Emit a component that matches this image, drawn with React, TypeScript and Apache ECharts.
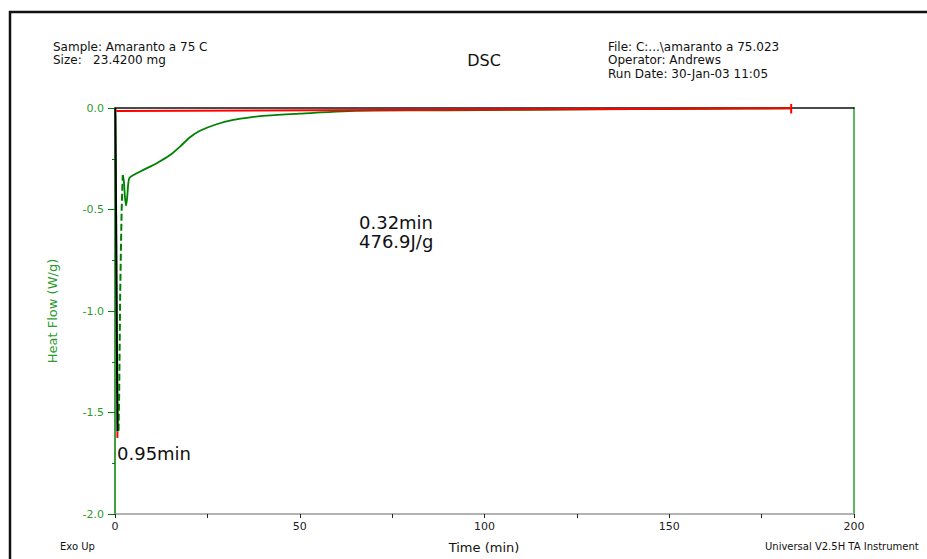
import React, { useEffect, useRef } from "react";
import * as echarts from "echarts";

// Heat flow (W/g) vs time (min)
const timeDescent = [0, 0.15, 0.3, 0.45, 0.6, 0.75, 0.95];
const flowDescent = [0, -0.05, -0.3, -0.75, -1.15, -1.45, -1.59];
const timeRecovery = [0.95, 1.1, 1.25, 1.4, 1.6, 1.8, 2.1];
const flowRecovery = [-1.59, -1.45, -1.2, -0.92, -0.7, -0.5, -0.33];
const timeTail = [2.1, 2.4, 2.7, 3.0, 3.3, 3.6, 3.9, 5, 7.7, 11.3, 14.9, 17.6, 20.3, 23, 27.5, 32, 36.6, 41, 50, 60, 70, 90, 110, 130, 150, 170, 183];
const flowTail = [-0.33, -0.36, -0.44, -0.48, -0.44, -0.37, -0.345, -0.33, -0.305, -0.272, -0.232, -0.19, -0.144, -0.112, -0.08, -0.059, -0.046, -0.038, -0.028, -0.018, -0.013, -0.011, -0.009, -0.007, -0.005, -0.003, -0.002];

// integration baseline and onset line
const baselineTime = [0.3, 183];
const baselineFlow = [-0.015, -0.001];
const onsetTime = [0.1, 0.65];
const onsetFlow = [0, -1.594];
const peakMarkTime = [0.65, 0.65];
const peakMarkFlow = [-1.594, -1.625];
const endMarkTime = [183, 183];
const endMarkFlow = [0.02, -0.027];

const xTicks = [0, 50, 100, 150, 200];

const headerLeft = ["Sample: Amaranto a 75 C", "Size:   23.4200 mg"];
const headerRight = ["File: C:...\\amaranto a 75.023", "Operator: Andrews", "Run Date: 30-Jan-03 11:05"];
const peakLabel = ["0.32min", "476.9J/g"];
const peakTimeLabel = "0.95min";

const zip = (xs: number[], ys: number[]) => xs.map((x, i) => [x, ys[i]]);

const FONT = '"DejaVu Sans", sans-serif';

export default function App() {
  const ref = useRef<HTMLDivElement>(null);
  useEffect(() => {
    if (!ref.current) return;
    const chart = echarts.init(ref.current, null, { renderer: "svg" });
    const green = "#008000";
    const labelGreen = "#2e9a2e";
    const txt = (text: string, x: number, y: number, size: number, align = "left", color = "#111", rotation = 0) => ({
      type: "text",
      x,
      y,
      rotation,
      style: {
        text,
        x: 0,
        y: 0,
        fill: color,
        font: `${size}px ${FONT}`,
        textAlign: align,
        align,
        textVerticalAlign: "middle",
        verticalAlign: "middle",
      },
      z: 10,
    });
    const option: any = {
      animation: false,
      grid: { left: 115, right: 73, top: 108, bottom: 45 },
      xAxis: [
        {
          type: "value",
          position: "bottom",
          min: 0,
          max: 200,
          interval: 25,
          axisLine: { show: true, onZero: false, lineStyle: { color: "#9a9a9a", width: 1.5 } },
          axisTick: { show: true, length: 4, lineStyle: { color: "#222", width: 1 } },
          axisLabel: {
            show: true,
            margin: 7,
            color: "#222",
            fontFamily: FONT,
            fontSize: 11,
            formatter: (v: number) => (xTicks.includes(v) ? String(v) : ""),
          },
          splitLine: { show: false },
        },
        {
          type: "value",
          position: "top",
          min: 0,
          max: 200,
          axisLine: { show: true, onZero: false, lineStyle: { color: "#111", width: 1.5 } },
          axisTick: { show: false },
          axisLabel: { show: false },
          splitLine: { show: false },
        },
      ],
      yAxis: [
        {
          type: "value",
          position: "left",
          min: -2,
          max: 0,
          interval: 0.5,
          axisLine: { show: true, onZero: false, lineStyle: { color: green, width: 1.5 } },
          axisTick: { show: true, length: 7, lineStyle: { color: green, width: 1 } },
          minorTick: { show: true, splitNumber: 2, length: 3, lineStyle: { color: green, width: 1 } },
          axisLabel: {
            show: true,
            margin: 11,
            color: labelGreen,
            fontFamily: FONT,
            fontSize: 11,
            formatter: (v: number) => v.toFixed(1),
          },
          splitLine: { show: false },
          minorSplitLine: { show: false },
        },
        {
          type: "value",
          position: "right",
          min: -2,
          max: 0,
          axisLine: { show: true, onZero: false, lineStyle: { color: "#5cb85c", width: 2 } },
          axisTick: { show: false },
          axisLabel: { show: false },
          splitLine: { show: false },
        },
      ],
      series: [
        {
          name: "descent",
          type: "line",
          data: zip(timeDescent, flowDescent),
          symbol: "none",
          lineStyle: { color: "#4caa4c", width: 1.5 },
          z: 2,
        },
        {
          name: "recovery",
          type: "line",
          data: zip(timeRecovery, flowRecovery),
          symbol: "none",
          lineStyle: { color: green, width: 2, type: [7, 3] },
          z: 2,
        },
        {
          name: "heat flow",
          type: "line",
          data: zip(timeTail, flowTail),
          symbol: "none",
          smooth: 0.25,
          lineStyle: { color: green, width: 1.8 },
          z: 2,
        },
        {
          name: "onset",
          type: "line",
          data: zip(onsetTime, onsetFlow),
          symbol: "none",
          lineStyle: { color: "#000", width: 2 },
          z: 3,
        },
        {
          name: "baseline",
          type: "line",
          data: zip(baselineTime, baselineFlow),
          symbol: "none",
          lineStyle: { color: "#ff0000", width: 2 },
          z: 4,
        },
        {
          name: "peak mark",
          type: "line",
          data: zip(peakMarkTime, peakMarkFlow),
          symbol: "none",
          clip: false,
          lineStyle: { color: "#ff0000", width: 2 },
          z: 4,
        },
        {
          name: "end mark",
          type: "line",
          data: zip(endMarkTime, endMarkFlow),
          symbol: "none",
          clip: false,
          lineStyle: { color: "#ff0000", width: 2 },
          z: 4,
        },
      ],
      graphic: [
        { type: "line", shape: { x1: 9, y1: 12, x2: 927, y2: 12 }, style: { stroke: "#111", lineWidth: 2.5 } },
        { type: "line", shape: { x1: 10, y1: 11, x2: 10, y2: 559 }, style: { stroke: "#111", lineWidth: 2.5 } },
        txt(headerLeft[0], 53, 47, 12),
        txt(headerLeft[1], 53, 60, 12),
        txt("DSC", 484, 60, 16, "center"),
        txt(headerRight[0], 608, 47, 12),
        txt(headerRight[1], 608, 60, 12),
        txt(headerRight[2], 608, 74, 12),
        txt(peakLabel[0], 359, 222, 18),
        txt(peakLabel[1], 359, 241, 18),
        txt(peakTimeLabel, 117, 453, 18),
        txt("Heat Flow (W/g)", 52, 311, 13, "center", labelGreen, Math.PI / 2),
        txt("Time (min)", 484, 547, 13, "center", "#111"),
        txt("Exo Up", 60, 546, 10),
        txt("Universal V2.5H TA Instrument", 765, 546, 10),
      ],
    };
    chart.setOption(option);
    return () => chart.dispose();
  }, []);
  return (
    <div
      ref={ref}
      style={{ position: "fixed", left: 0, top: 0, width: 927, height: 559, background: "#fff" }}
    />
  );
}
